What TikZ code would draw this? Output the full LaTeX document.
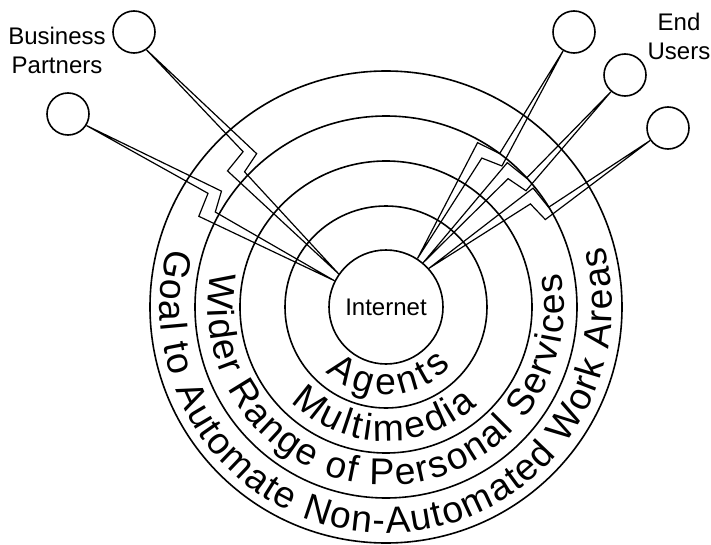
\documentclass[tikz,border=0pt]{standalone}
\usepackage{fontspec}
\setmainfont{Liberation Sans}
\usetikzlibrary{calc,decorations.text}
\newcommand\ringfont{\fontsize{28}{30}\selectfont}
\newcommand\drawbolt[2]{%
  \coordinate (bS) at (#1);
  \coordinate (bE) at (#2);
  \coordinate (m1) at ($(bS)!0.51!(bE)$);
  \coordinate (m2) at ($(bS)!0.53!(bE)$);
  \coordinate (m3) at ($(bS)!0.49!(bE)$);
  \coordinate (m4) at ($(bS)!0.475!(bE)$);
  \coordinate (r1) at ($(m1)!12pt!90:(bE)$);
  \coordinate (r2) at ($(m2)!3.75pt!-90:(bE)$);
  \coordinate (l2) at ($(m3)!13pt!-90:(bE)$);
  \coordinate (l1) at ($(m4)!5.25pt!90:(bE)$);
  \draw[boltline] (bS) -- (r1) -- (r2) -- (bE) -- (l2) -- (l1) -- cycle;}
\begin{document}
\begin{tikzpicture}[x=0.75pt,y=0.75pt,
  ring/.style={line width=1.2pt},
  boltline/.style={line width=0.9pt, line join=miter},
  enduser/.style={circle, draw, line width=1.2pt, minimum size=31.5pt, inner sep=0pt},
  lbl/.style={font=\fontsize{18}{22}\selectfont, align=center, inner sep=0pt, anchor=north},
  ringtext/.style={decorate, decoration={text along path, text format delimiters={|}{|}, text align=fit to path, text={|\ringfont|#1}}}]
\useasboundingbox (0,0) rectangle (711,544);
\fill[white] (0,0) rectangle (711,544);
\coordinate (C) at (386,237);
\draw[ring] (C) circle[radius=177pt];
\draw[ring] (C) circle[radius=143.25pt];
\draw[ring] (C) circle[radius=109.5pt];
\draw[ring] (C) circle[radius=75.75pt];
\node[circle, draw, ring, minimum size=85.5pt, inner sep=0pt, font=\fontsize{18}{22}\selectfont] (inet) at (C) {Internet};
\node[enduser] (p1) at (134,512) {};
\node[enduser] (p2) at (68,430) {};
\node[enduser] (u1) at (574,512) {};
\node[enduser] (u2) at (625,469) {};
\node[enduser] (u3) at (668,416) {};
\node[lbl] (bp) at (57,517) {Business\\Partners};
\node[lbl] (eu) at (679,531) {End\\Users};
\drawbolt{p1.-55}{inet.145}
\drawbolt{p2.-32}{inet.153}
\drawbolt{u1.-120}{inet.57}
\drawbolt{u2.-130}{inet.50}
\drawbolt{u3.-145}{inet.42}
\path[ringtext={Goal to Automate Non-Automated Work Areas}] ($(C)+(165:169.5pt)$) arc[start angle=165, end angle=375.5, radius=169.5pt];
\path[ringtext={Wider Range of Personal Services}] ($(C)+(169:133.5pt)$) arc[start angle=169, end angle=371, radius=133.5pt];
\path[ringtext={Multimedia}] ($(C)+(225:100.5pt)$) arc[start angle=225, end angle=313, radius=100.5pt];
\path[ringtext={Agents}] ($(C)+(227:66pt)$) arc[start angle=227, end angle=318, radius=66pt];
\end{tikzpicture}
\end{document}
